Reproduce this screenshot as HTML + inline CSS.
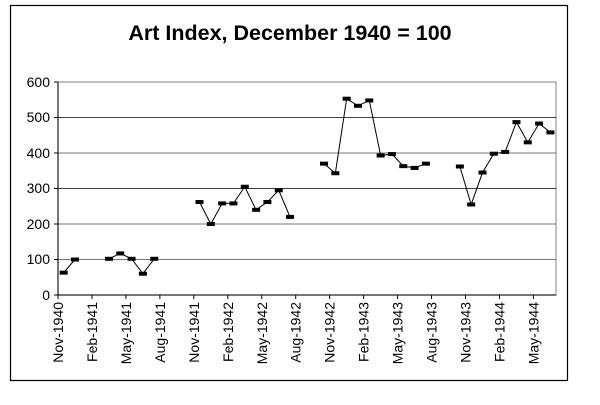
<!DOCTYPE html>
<html><head><style>body{margin:0;background:#fff}</style></head><body>
<svg width="600" height="400" xmlns="http://www.w3.org/2000/svg" font-family="Liberation Sans, Arial, sans-serif">
<rect x="0" y="0" width="600" height="400" fill="#fff"/>
<rect x="10.5" y="5.5" width="557" height="375" fill="none" stroke="#000" stroke-width="1.2"/>
<text x="290" y="40" font-size="21.5" font-weight="bold" text-anchor="middle">Art Index, December 1940 = 100</text>
<rect x="58" y="82" width="498" height="213" fill="none" stroke="#999" stroke-width="1.2"/>
<g stroke="#000" stroke-width="0.8">
<line x1="58" x2="556" y1="117.5" y2="117.5"/>
<line x1="58" x2="556" y1="188.5" y2="188.5"/>
</g>
<g stroke="#777" stroke-width="1">
<line x1="58" x2="556" y1="153" y2="153"/>
<line x1="58" x2="556" y1="224" y2="224"/>
<line x1="58" x2="556" y1="259.5" y2="259.5"/>
</g>
<line x1="58" y1="82" x2="58" y2="295" stroke="#000"/>
<line x1="58" y1="295" x2="556" y2="295" stroke="#000"/>
<g font-size="14" text-anchor="end">
<text x="50" y="87">600</text><text x="50" y="122">500</text><text x="50" y="158">400</text>
<text x="50" y="193">300</text><text x="50" y="229">200</text><text x="50" y="264">100</text><text x="50" y="300">0</text>
</g>
<g stroke="#000"><line x1="54" x2="58" y1="82" y2="82"/><line x1="54" x2="58" y1="117.5" y2="117.5"/><line x1="54" x2="58" y1="153" y2="153"/><line x1="54" x2="58" y1="188.5" y2="188.5"/><line x1="54" x2="58" y1="224" y2="224"/><line x1="54" x2="58" y1="259.5" y2="259.5"/><line x1="54" x2="58" y1="295" y2="295"/></g>
<g id="ticks" stroke="#000"></g>
<g id="labels" font-size="14" text-anchor="end"></g>
<g id="lines" fill="none" stroke="#000" stroke-width="1"></g>
<g id="marks" fill="#000"></g>
</svg>
<script>
var ns="http://www.w3.org/2000/svg";
function el(p,t,a,txt){var e=document.createElementNS(ns,t);for(var k in a)e.setAttribute(k,a[k]);if(txt)e.textContent=txt;document.getElementById(p).appendChild(e);}
var x0=58,dx=11.32;
var labs=["Nov-1940","Feb-1941","May-1941","Aug-1941","Nov-1941","Feb-1942","May-1942","Aug-1942","Nov-1942","Feb-1943","May-1943","Aug-1943","Nov-1943","Feb-1944","May-1944"];
for(var i=0;i<labs.length;i++){var x=x0+dx*3*i;el("ticks","line",{x1:x,x2:x,y1:295,y2:299});
el("labels","text",{transform:"translate("+(x+5)+",302) rotate(-90)"},labs[i]);}
var d=[63,100,null,null,102,117,102,60,102,null,null,null,262,200,258,258,305,240,262,295,220,null,null,370,343,553,533,548,393,397,363,358,370,null,null,362,255,345,398,403,487,430,483,458];
var seg=[];
function flush(){if(seg.length>1)el("lines","polyline",{points:seg.join(" ")});seg=[];}
for(var i=0;i<d.length;i++){if(d[i]==null){flush();continue;}
var x=x0+dx*(i+0.5),y=295-d[i]*0.355;seg.push(x+","+y);
el("marks","rect",{x:x-4,y:y-2,width:8,height:4});}
flush();
</script>
</body></html>
